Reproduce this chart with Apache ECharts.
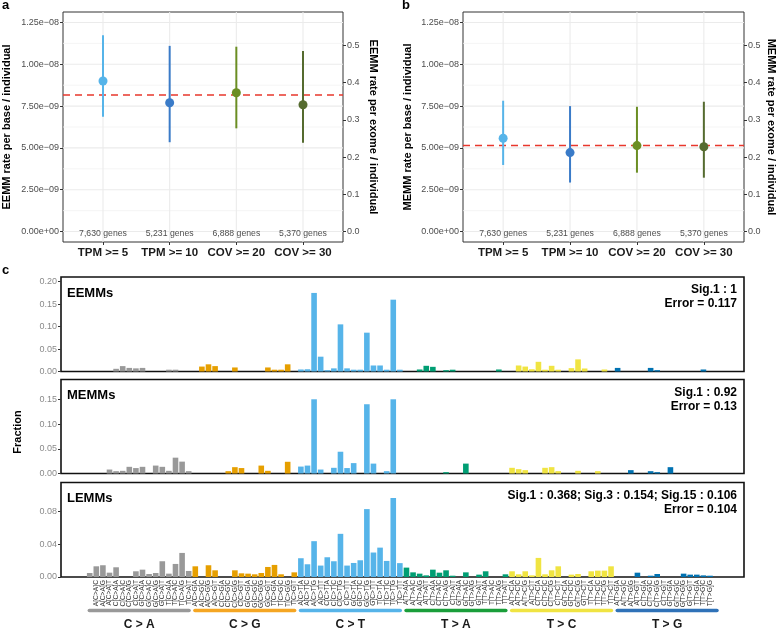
<!DOCTYPE html>
<html><head><meta charset="utf-8">
<script src="https://cdn.jsdelivr.net/npm/echarts@6/dist/echarts.min.js"></script>
<style>html,body{margin:0;padding:0;background:#fff}#c{width:778px;height:631px}</style>
</head><body><div id="c"></div>
<script>
const FONT = '"Liberation Sans", Arial, Helvetica, sans-serif';

// ---------- Panels a & b ----------
const filters = ['TPM >= 5', 'TPM >= 10', 'COV >= 20', 'COV >= 30'];
const geneCounts = ['7,630 genes', '5,231 genes', '6,888 genes', '5,370 genes'];
const eemmRate = [9.00e-9, 7.70e-9, 8.30e-9, 7.58e-9];
const eemmLow  = [6.87e-9, 5.34e-9, 6.17e-9, 5.31e-9];
const eemmHigh = [11.74e-9, 11.10e-9, 11.05e-9, 10.79e-9];
const eemmRef = 8.16e-9;
const memmRate = [5.58e-9, 4.72e-9, 5.14e-9, 5.07e-9];
const memmLow  = [3.98e-9, 2.93e-9, 3.52e-9, 3.22e-9];
const memmHigh = [7.82e-9, 7.50e-9, 7.46e-9, 7.76e-9];
const memmRef = 5.14e-9;
const rateTicks = [0, 2.5e-9, 5e-9, 7.5e-9, 1e-8, 1.25e-8];
const rateTickLabels = ['0.00e+00', '2.50e\u221209', '5.00e\u221209', '7.50e\u221209', '1.00e\u221208', '1.25e\u221208'];
const rateMinorTicks = [1.25e-9, 3.75e-9, 6.25e-9, 8.75e-9, 1.125e-8];
const exomeTicks = [0, 0.1, 0.2, 0.3, 0.4, 0.5];
const exomeTickLabels = ['0.0', '0.1', '0.2', '0.3', '0.4', '0.5'];
const exomeSize = 4.49e7;
const filterPos = [1, 2, 3, 4];

// ---------- Panel c ----------
const mutTypes = ['C > A', 'C > G', 'C > T', 'T > A', 'T > C', 'T > G'];
const subs = ['C>A', 'C>G', 'C>T', 'T>A', 'T>C', 'T>G'];
const bases = ['A', 'C', 'G', 'T'];
const contexts = [];
subs.forEach(s => bases.forEach(b5 => bases.forEach(b3 => contexts.push(b5 + '[' + s + ']' + b3))));
const eemmFrac = [
  0, 0, 0, 0, 0.006, 0.012, 0.008, 0.007, 0.008, 0, 0, 0, 0.004, 0.004, 0, 0,
  0, 0.011, 0.016, 0.012, 0, 0, 0.009, 0, 0, 0, 0, 0.009, 0.004, 0.004, 0.016, 0,
  0.0045, 0.005, 0.175, 0.033, 0.003, 0.007, 0.105, 0.007, 0.004, 0.004, 0.0865, 0.0134, 0.0134, 0.004, 0.16, 0.004,
  0, 0, 0.0045, 0.0127, 0.0104, 0, 0.003, 0.004, 0, 0, 0, 0, 0, 0, 0.0045, 0,
  0, 0.0134, 0.011, 0.005, 0.0216, 0.004, 0.0127, 0.004, 0, 0.0075, 0.027, 0.0067, 0, 0, 0.0045, 0,
  0.008, 0, 0, 0, 0, 0.008, 0.003, 0, 0, 0, 0, 0, 0, 0.0045, 0, 0
];
const memmFrac = [
  0, 0, 0, 0.008, 0.0047, 0.0054, 0.0135, 0.011, 0.0135, 0, 0.016, 0.0135, 0.0054, 0.032, 0.024, 0.0047,
  0, 0, 0, 0, 0, 0.0047, 0.0128, 0.011, 0, 0, 0.016, 0.0054, 0, 0, 0.0237, 0,
  0.014, 0.016, 0.15, 0.008, 0, 0.0115, 0.044, 0.011, 0.021, 0, 0.14, 0.020, 0, 0.0047, 0.15, 0,
  0, 0, 0, 0, 0, 0, 0.0027, 0, 0, 0.020, 0, 0, 0, 0, 0, 0,
  0.0115, 0.0088, 0.0068, 0, 0, 0.0115, 0.0128, 0.0047, 0, 0, 0.0054, 0, 0, 0.0047, 0, 0,
  0, 0, 0.0068, 0, 0, 0.0047, 0.0027, 0, 0.0128, 0, 0, 0, 0, 0, 0, 0
];
const lemmFrac = [
  0.0049, 0.0131, 0.0144, 0.0053, 0.0119, 0, 0, 0.007, 0.009, 0.0037, 0.0049, 0.0193, 0.0041, 0.016, 0.0295, 0.0074,
  0.0131, 0, 0.0144, 0.0082, 0, 0, 0.0082, 0.0045, 0.0041, 0.0033, 0.0049, 0.0123, 0.0148, 0.0033, 0, 0.0057,
  0.023, 0.0156, 0.0439, 0.014, 0.0242, 0.0193, 0.0529, 0.014, 0.0172, 0.0205, 0.0832, 0.030, 0.036, 0.0197, 0.0968, 0.017,
  0.0115, 0.0057, 0.0041, 0.002, 0.009, 0.0053, 0.0082, 0.0016, 0, 0.0057, 0, 0.0029, 0.007, 0, 0, 0.0033,
  0.007, 0.0033, 0.007, 0.002, 0.0234, 0.0033, 0.0082, 0.0131, 0, 0.0029, 0.0037, 0, 0.007, 0.0078, 0.0078, 0.0131,
  0, 0, 0, 0.0053, 0, 0.0016, 0.0037, 0, 0, 0, 0.0041, 0.0029, 0.0029, 0.002, 0.0016, 0
];
const eemmTicks = [0, 0.05, 0.10, 0.15, 0.20];
const memmTicks = [0, 0.05, 0.10, 0.15];
const lemmTicks = [0, 0.04, 0.08];
const panelNames = ['EEMMs', 'MEMMs', 'LEMMs'];
const sigText = ['Sig.1 : 1', 'Sig.1 : 0.92', 'Sig.1 : 0.368; Sig.3 : 0.154; Sig.15 : 0.106'];
const errText = ['Error = 0.117', 'Error = 0.13', 'Error = 0.104'];

// ---------- styles ----------
const pointColors = ['#56B4E9', '#3A7BC8', '#6B8E23', '#556B2F'];
const groupColors = ['#999999', '#E69F00', '#56B4E9', '#009E73', '#F0E442', '#0072B2'];
const lineColors = ['#999999', '#F5A623', '#56B4E9', '#1A9E3A', '#F0E442', '#2F72B8'];

// rate axes are plotted in units of 1e-9 (pure unit conversion)
const U = 1e9;
const RMIN = -0.625, RMAX = 13.125;
const XA_MIN = 0.4, XA_MAX = 4.6;
const labFromTicks = (ticks, labels) => v => {
  let best = 0;
  ticks.forEach((t, i) => { if (Math.abs(t - v) < Math.abs(ticks[best] - v)) best = i; });
  return labels[best];
};
// grid-line series drawn through the axes' own scales
const gridLineSeries = (xi, yi, z, vals, horizontal, color, width, dash) => ({
  type: 'custom', xAxisIndex: xi, yAxisIndex: yi, z, silent: true,
  data: vals.map(v => [v]),
  renderItem: (params, api) => {
    const v = api.value(0);
    const a = horizontal ? api.coord([XA_MIN, v]) : api.coord([v, RMIN]);
    const b = horizontal ? api.coord([XA_MAX, v]) : api.coord([v, RMAX]);
    return {type: 'line', shape: {x1: a[0], y1: a[1], x2: b[0], y2: b[1]},
      style: {stroke: color, lineWidth: width, lineDash: dash || null}};
  }
});

function ratePanel(gi, rate, low, high, ref, leftName, rightName, leftGap, rightGap) {
  const xi = gi, yL = gi * 2;
  const rT = rateTicks.map(v => v * U);
  return {
    xAxis: {
      type: 'value', gridIndex: gi, min: XA_MIN, max: XA_MAX,
      axisLine: {show: false, onZero: false}, splitLine: {show: false},
      axisTick: {show: true, customValues: filterPos, length: 3, lineStyle: {color: '#333'}},
      axisLabel: {customValues: filterPos, formatter: v => filters[Math.round(v) - 1], fontFamily: FONT,
        fontWeight: 'bold', fontSize: 11.5, color: '#1a1a1a', margin: 5}
    },
    yAxes: [{
      type: 'value', gridIndex: gi, min: RMIN, max: RMAX, position: 'left',
      axisLine: {show: false, onZero: false}, splitLine: {show: false},
      axisTick: {show: true, customValues: rT, length: 3, lineStyle: {color: '#333'}},
      axisLabel: {customValues: rT, formatter: labFromTicks(rT, rateTickLabels), fontFamily: FONT,
        fontSize: 9, color: '#4d4d4d', margin: 4},
      name: leftName, nameLocation: 'middle', nameRotate: 90, nameGap: leftGap,
      nameTextStyle: {fontFamily: FONT, fontWeight: 'bold', fontSize: 11, color: '#000'}
    }, {
      type: 'value', gridIndex: gi, min: RMIN / U * exomeSize, max: RMAX / U * exomeSize, position: 'right',
      axisLine: {show: false, onZero: false}, splitLine: {show: false},
      axisTick: {show: true, customValues: exomeTicks, length: 3, lineStyle: {color: '#333'}},
      axisLabel: {customValues: exomeTicks, formatter: labFromTicks(exomeTicks, exomeTickLabels), fontFamily: FONT,
        fontSize: 9, color: '#4d4d4d', margin: 4},
      name: rightName, nameLocation: 'middle', nameRotate: -90, nameGap: rightGap,
      nameTextStyle: {fontFamily: FONT, fontWeight: 'bold', fontSize: 11, color: '#000'}
    }],
    series: [
      gridLineSeries(xi, yL, 1, rateMinorTicks.map(v => v * U), true, '#F2F2F2', 0.8),
      gridLineSeries(xi, yL, 1, rT, true, '#EBEBEB', 1.1),
      gridLineSeries(xi, yL, 1, filterPos, false, '#EBEBEB', 1.1),
      gridLineSeries(xi, yL, 2, [ref * U], true, '#E8372C', 1.5, [7, 5]),
    {
      type: 'custom', xAxisIndex: xi, yAxisIndex: yL, z: 3, silent: true,
      data: filterPos.map((x, i) => [x, low[i] * U, high[i] * U]),
      renderItem: (params, api) => {
        const a = api.coord([api.value(0), api.value(1)]);
        const b = api.coord([api.value(0), api.value(2)]);
        return {type: 'line', shape: {x1: a[0], y1: a[1], x2: b[0], y2: b[1]},
          style: {stroke: pointColors[params.dataIndex], lineWidth: 2}};
      }
    }, {
      type: 'scatter', xAxisIndex: xi, yAxisIndex: yL, z: 4, symbolSize: 9, silent: true,
      data: filterPos.map((x, i) => [x, rate[i] * U]),
      itemStyle: {color: p => pointColors[p.dataIndex], opacity: 1}
    }, {
      type: 'scatter', xAxisIndex: xi, yAxisIndex: yL, z: 4, symbolSize: 1, silent: true,
      data: filterPos.map((x, i) => [x, 0]),
      itemStyle: {color: 'rgba(0,0,0,0)'},
      label: {show: true, position: 'inside', offset: [0, 2.5], formatter: p => geneCounts[p.dataIndex],
        fontFamily: FONT, fontSize: 8.7, color: '#1a1a1a'}
    }]
  };
}

const pa = ratePanel(0, eemmRate, eemmLow, eemmHigh, eemmRef,
  'EEMM rate per base / individual', 'EEMM rate per exome / individual', 51, 25);
const pb = ratePanel(1, memmRate, memmLow, memmHigh, memmRef,
  'MEMM rate per base / individual', 'MEMM rate per exome / individual', 50, 22);

const grid = [
  {left: 63, top: 12, width: 280, height: 230, show: true, borderColor: '#333', borderWidth: 1},
  {left: 463, top: 12, width: 282, height: 230, show: true, borderColor: '#333', borderWidth: 1},
  {left: 61, top: 277, width: 683, height: 94.5, show: true, borderColor: '#111', borderWidth: 1.6},
  {left: 61, top: 379.5, width: 683, height: 94, show: true, borderColor: '#111', borderWidth: 1.6},
  {left: 61, top: 482.5, width: 683, height: 94.5, show: true, borderColor: '#111', borderWidth: 1.6},
  {left: 61, top: 608, width: 683, height: 10}
];

const XMIN = -3.35, XMAX = 100.15;
const idx96 = contexts.map((c, i) => i + 1);
const fracPanels = [eemmFrac, memmFrac, lemmFrac];
const fracMax = [0.2105, 0.190, 0.1158];
const fracTicks = [eemmTicks, memmTicks, lemmTicks];

const xAxis = [pa.xAxis, pb.xAxis];
const yAxis = [...pa.yAxes, ...pb.yAxes];
const series = [...pa.series, ...pb.series];

fracPanels.forEach((vals, p) => {
  const gi = 2 + p;
  xAxis.push({
    type: 'value', gridIndex: gi, min: XMIN, max: XMAX, splitLine: {show: false},
    axisLine: {show: false, onZero: false}, axisTick: {show: false},
    axisLabel: p === 2 ? {customValues: idx96, rotate: 90, formatter: v => contexts[Math.round(v) - 1],
      fontFamily: FONT, fontSize: 6.7, color: '#333', margin: 3} : {show: false}
  });
  yAxis.push({
    type: 'value', gridIndex: gi, min: 0, max: fracMax[p], splitLine: {show: false},
    axisLine: {show: false, onZero: false},
    axisTick: {show: true, customValues: fracTicks[p], length: 3, lineStyle: {color: '#333'}},
    axisLabel: {customValues: fracTicks[p], formatter: v => v.toFixed(2), fontFamily: FONT, fontSize: 9, color: '#8a8a8a', margin: 4}
  });
  series.push({
    type: 'bar', xAxisIndex: xAxis.length - 1, yAxisIndex: yAxis.length - 1, barWidth: 5.6, silent: true,
    data: vals.map((v, i) => [i + 1, v]),
    itemStyle: {color: prm => groupColors[Math.floor(prm.dataIndex / 16)]}
  });
});

// group bar strip
xAxis.push({
  type: 'value', gridIndex: 5, min: XMIN, max: XMAX, splitLine: {show: false},
  axisLine: {show: false, onZero: false}, axisTick: {show: false},
  axisLabel: {customValues: mutTypes.map((m, g) => g * 16 + 8.5), formatter: v => mutTypes[Math.round((v - 8.5) / 16)],
    fontFamily: FONT, fontWeight: 'bold', fontSize: 12, color: '#1a1a1a', margin: 6}
});
yAxis.push({type: 'value', gridIndex: 5, min: -1, max: 1, show: false});
mutTypes.forEach((m, g) => {
  series.push({
    type: 'line', xAxisIndex: xAxis.length - 1, yAxisIndex: yAxis.length - 1, symbol: 'none', silent: true,
    data: [[g * 16 + 1 - 0.05, 0], [g * 16 + 16 + 0.05, 0]],
    lineStyle: {color: lineColors[g], width: 3.6, cap: 'round'}
  });
});

const txt = (x, y, text, opts) => Object.assign({type: 'text', x, y, style: Object.assign({text, fontFamily: FONT,
  fontWeight: 'bold', fontSize: 12, fill: '#000', align: 'left', verticalAlign: 'middle'}, opts || {})});
const graphic = [
  txt(2, 5, 'a', {fontSize: 13}),
  txt(402, 5, 'b', {fontSize: 13}),
  txt(2, 270, 'c', {fontSize: 13}),
  Object.assign(txt(18, 432, 'Fraction', {fontSize: 11, align: 'center'}), {rotation: Math.PI / 2}),
];
const panelTops = [277, 379.5, 482.5];
panelNames.forEach((n, p) => {
  graphic.push(txt(67, panelTops[p] + 16, n, {fontSize: 13}));
  graphic.push(txt(737, panelTops[p] + 13, sigText[p], {fontSize: 12, align: 'right'}));
  graphic.push(txt(737, panelTops[p] + 27, errText[p], {fontSize: 12, align: 'right'}));
});

const chart = echarts.init(document.getElementById('c'), null, {renderer: 'canvas'});
chart.setOption({animation: false, backgroundColor: '#fff', grid, xAxis, yAxis, series, graphic});
</script></body></html>
